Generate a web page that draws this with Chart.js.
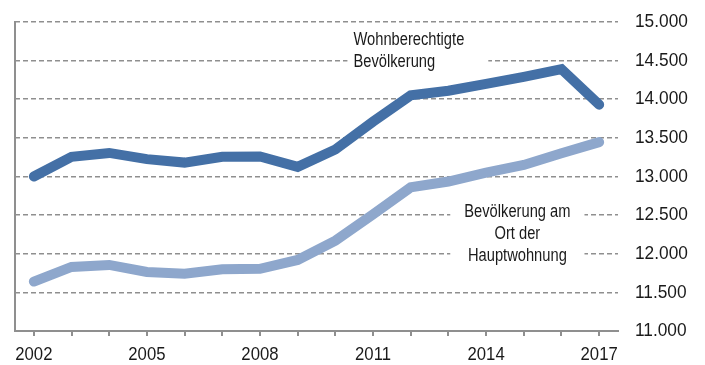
<!DOCTYPE html>
<html>
<head>
<meta charset="utf-8">
<script src="https://cdn.jsdelivr.net/npm/chart.js@4/dist/chart.umd.min.js"></script>
<style>
  html, body { margin: 0; padding: 0; background: #fff; }
  #wrap { width: 705px; height: 365px; position: relative; }
</style>
</head>
<body>
<div id="wrap"><canvas id="chart"></canvas></div>
<script>
// ── Data ────────────────────────────────────────────────────────────
const years = ['2002', '2003', '2004', '2005', '2006', '2007', '2008', '2009',
               '2010', '2011', '2012', '2013', '2014', '2015', '2016', '2017'];
const wohnberechtigt = [13000, 13255, 13305, 13225, 13180, 13255, 13260, 13125,
                        13350, 13710, 14050, 14110, 14200, 14290, 14390, 13930];
const hauptwohnung   = [11640, 11830, 11855, 11765, 11740, 11800, 11805, 11920,
                        12170, 12510, 12860, 12935, 13050, 13150, 13300, 13445];
const yTicks = { min: 11000, max: 15000, step: 500 };

const GRID  = '#8f8f8f';
const TEXT  = '#1a1a1a';
const FONT  = "'Liberation Sans', Arial, sans-serif";

const fmtDe = v => v.toLocaleString('de-DE');
const xLabel = i => (i % 3 === 0 ? years[i] : '');

// Narrow-looking text: regular face squeezed horizontally
function drawNarrow(ctx, text, x, y, align, sx) {
  ctx.save();
  ctx.translate(x, y);
  ctx.scale(sx, 1);
  ctx.textAlign = align;
  ctx.fillText(text, 0, 0);
  ctx.restore();
}

// ── Tick labels (Chart.js keeps layout, we draw the text) ────────────
const narrowTicks = {
  id: 'narrowTicks',
  afterDraw(chart) {
    const { ctx, chartArea: a, scales: { x, y } } = chart;
    ctx.save();
    ctx.fillStyle = TEXT;
    ctx.textBaseline = 'middle';
    ctx.font = `19px ${FONT}`;
    y.ticks.forEach((t, i) => {
      drawNarrow(ctx, fmtDe(t.value), a.right + 17, y.getPixelForTick(i), 'left', 0.91);
    });
    x.ticks.forEach((t, i) => {
      const s = xLabel(i);
      if (s) drawNarrow(ctx, s, x.getPixelForTick(i), a.bottom + 24, 'center', 0.88);
    });
    ctx.restore();
  },
};

// ── Series labels drawn in the plot, with a white box behind them ────
const seriesLabels = {
  id: 'seriesLabels',
  afterDatasetsDraw(chart, args, opts) {
    const { ctx, scales: { x, y } } = chart;
    const sx = 0.84;
    ctx.save();
    ctx.font = `17.5px ${FONT}`;
    ctx.textBaseline = 'middle';
    opts.items.forEach(it => {
      const px = x.getPixelForValue(it.x);
      const py = y.getPixelForValue(it.y);
      const w = sx * Math.max(...it.lines.map(l => ctx.measureText(l).width));
      const left = it.align === 'center' ? px - w / 2 : px;
      ctx.fillStyle = '#fff';
      ctx.fillRect(left - it.padL, py - it.lh / 2, w + it.padL + it.padR, it.lh * it.lines.length);
      ctx.fillStyle = TEXT;
      it.lines.forEach((l, i) => drawNarrow(ctx, l, px, py + i * it.lh, it.align, sx));
    });
    ctx.restore();
  },
};

// ── Left axis line (y scale sits on the right) ───────────────────────
const leftAxis = {
  id: 'leftAxis',
  beforeDatasetsDraw(chart) {
    const { ctx, chartArea: a } = chart;
    ctx.save();
    ctx.strokeStyle = GRID;
    ctx.lineWidth = 2;
    ctx.beginPath();
    ctx.moveTo(a.left, a.top - 1);
    ctx.lineTo(a.left, a.bottom);
    ctx.stroke();
    ctx.restore();
  },
};

const lineStyle = {
  fill: false,
  tension: 0,
  pointRadius: 0,
  borderWidth: 10,
  borderCapStyle: 'round',
  borderJoinStyle: 'miter',
};

new Chart(document.getElementById('chart'), {
  type: 'line',
  data: {
    labels: years,
    datasets: [
      { label: 'Wohnberechtigte Bevölkerung', data: wohnberechtigt, borderColor: '#4470a6', ...lineStyle },
      { label: 'Bevölkerung am Ort der Hauptwohnung', data: hauptwohnung, borderColor: '#8ea7cc', ...lineStyle },
    ],
  },
  options: {
    responsive: true,
    maintainAspectRatio: false,
    animation: false,
    layout: { padding: { left: 15, top: 22, right: 0, bottom: 0 } },
    plugins: {
      legend: { display: false },
      tooltip: { enabled: false },
      seriesLabels: {
        items: [
          { x: 8.48, y: 14767, lh: 22, align: 'left', padL: 6, padR: 24,
            lines: ['Wohnberechtigte', 'Bevölkerung'] },
          { x: 12.83, y: 12537, lh: 22, align: 'center', padL: 14, padR: 14,
            lines: ['Bevölkerung am', 'Ort der', 'Hauptwohnung'] },
        ],
      },
    },
    scales: {
      x: {
        type: 'category',
        offset: true,
        grid: { display: true, drawOnChartArea: false, drawTicks: true, tickLength: 5, color: GRID, lineWidth: 2 },
        border: { display: true, color: GRID, width: 2 },
        ticks: {
          autoSkip: false,
          maxRotation: 0,
          color: 'transparent',
          font: { family: FONT, size: 16 },
          callback: (v, i) => xLabel(i),
        },
        afterFit: s => { s.height = 34; },
      },
      y: {
        position: 'right',
        min: yTicks.min,
        max: yTicks.max,
        grid: { color: GRID, lineWidth: 1.6, drawTicks: false },
        border: { display: false, dash: [5, 3] },
        ticks: {
          stepSize: yTicks.step,
          color: 'transparent',
          font: { family: FONT, size: 17 },
          callback: v => fmtDe(v),
        },
        afterFit: s => { s.width = 87; },
      },
    },
  },
  plugins: [leftAxis, seriesLabels, narrowTicks],
});
</script>
</body>
</html>
